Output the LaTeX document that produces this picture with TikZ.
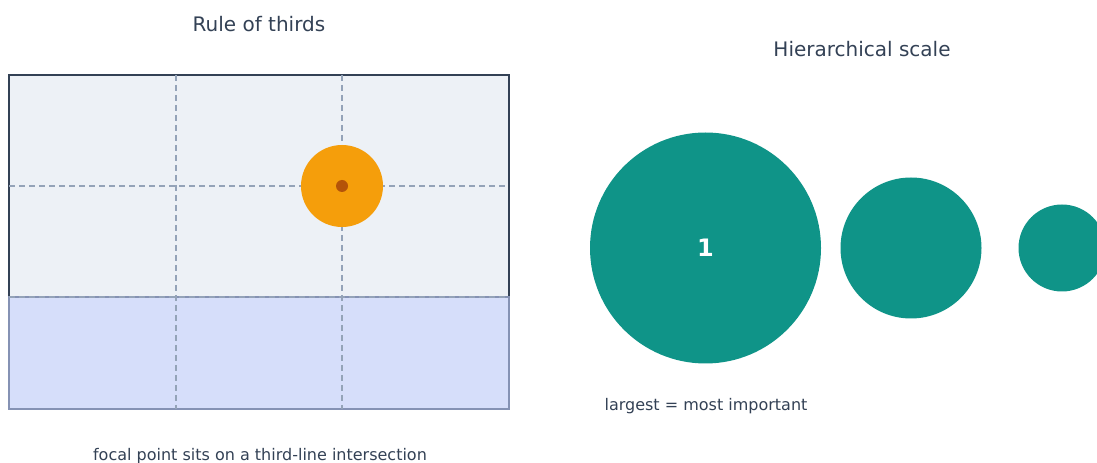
\documentclass[tikz,border=0pt]{standalone}
\usepackage{fontspec}
\setmainfont{DejaVu Sans}
\definecolor{slatetext}{HTML}{334155}
\definecolor{framefill}{HTML}{EDF1F6}
\definecolor{bandfill}{HTML}{D6DEFA}
\definecolor{bandline}{HTML}{8592B4}
\definecolor{gridline}{HTML}{94A3B8}
\definecolor{focusfill}{HTML}{F59E0B}
\definecolor{focusdot}{HTML}{B45309}
\definecolor{tealfill}{HTML}{0F9488}

\begin{document}
\begin{tikzpicture}[x=0.75pt, y=-0.75pt,
title/.style={text=slatetext, font=\fontsize{15}{18}\selectfont, inner sep=0},
caption/.style={text=slatetext, font=\fontsize{12}{14}\selectfont, inner sep=0},
third/.style={gridline, line width=1.4pt, dash pattern=on 4.5pt off 3pt},
bubble/.style={circle, fill=tealfill, inner sep=0},
]
\useasboundingbox (0,0) rectangle (1097,463);

%%%%%%%%%%%%%%%%%%%%%%%% RULE OF THIRDS %%%%%%%%%%%%%%%%%%%%%%%%%%%
\node[title] (ThirdsTitle) at (259,24) {Rule of thirds};
\draw[fill=framefill, draw=slatetext, line width=1.9pt] (9,75) rectangle (509,409);
\draw[fill=bandfill, draw=bandline, line width=1.3pt] (9,297) rectangle (509,409);
%%%%%%%%% GRID %%%%%%%%%%%%%
\foreach \gx in {176,342}
  \draw[third] (\gx,75) -- (\gx,409);
\foreach \gy in {186,297}
  \draw[third] (9,\gy) -- (509,\gy);
%%%%%%%%% FOCAL POINT %%%%%%%%%%%%%
\node[circle, fill=focusfill, inner sep=0, minimum size=82*0.75pt] (Focus) at (342,186) {};
\node[circle, fill=focusdot, inner sep=0, minimum size=12*0.75pt] (FocusDot) at (Focus) {};
\node[caption] (ThirdsCaption) at (260,456) {focal point sits on a third-line intersection};

%%%%%%%%%%%%%%%%%%%%%%%% HIERARCHICAL SCALE %%%%%%%%%%%%%%%%%%%%%%%%%%%
\node[title] (ScaleTitle) at (862,49) {Hierarchical scale};
\node[bubble, minimum size=231*0.75pt, text=white, font=\bfseries\fontsize{18}{20}\selectfont] (Big) at (705.5,248) {1};
\node[bubble, minimum size=141*0.75pt] (Mid) at (911,248) {};
\node[bubble, minimum size=87*0.75pt] (Small) at (1062,248) {};
\node[caption] (ScaleCaption) at (706,406) {largest = most important};
\end{tikzpicture}
\end{document}
